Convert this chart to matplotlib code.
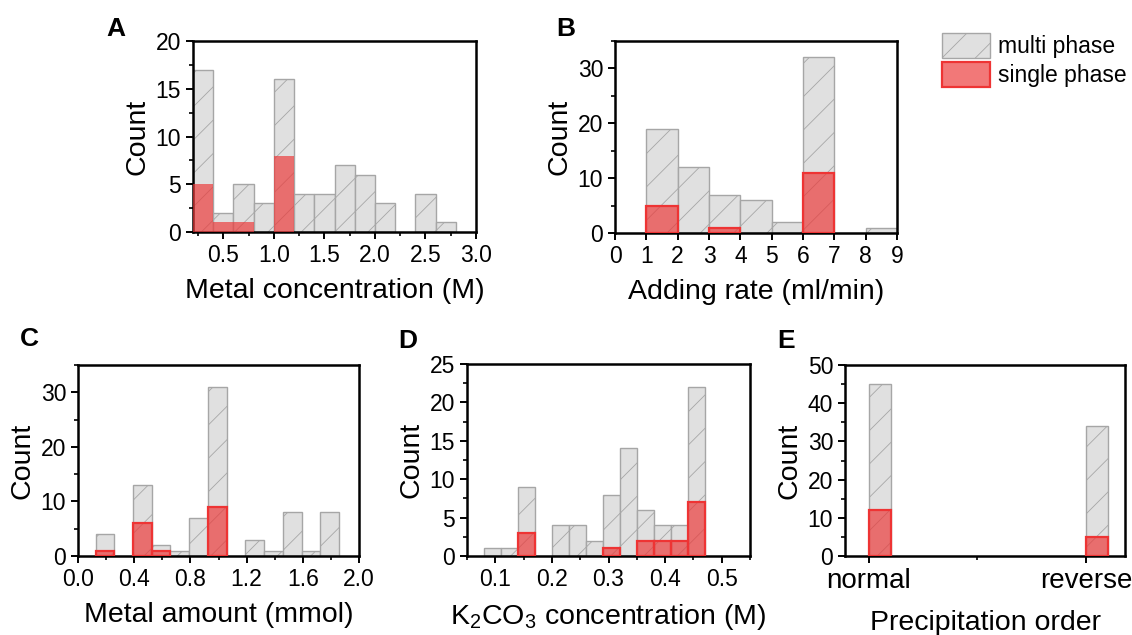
import numpy as np
import matplotlib
matplotlib.use('Agg')
import matplotlib.pyplot as plt
from matplotlib.ticker import MultipleLocator
from matplotlib.patches import Patch

plt.rcParams['font.family'] = ['Liberation Sans', 'DejaVu Sans']
plt.rcParams['hatch.color'] = '#9a9a9a'
plt.rcParams['hatch.linewidth'] = 0.6

# A: metal concentration
a_edges = [0.2, 0.4, 0.6, 0.8, 1.0, 1.2, 1.4, 1.6, 1.8, 2.0, 2.2, 2.4, 2.6, 2.8]
a_multi = [17, 2, 5, 3, 16, 4, 4, 7, 6, 3, 0, 4, 1]
a_single = [5, 1, 1, 0, 8, 0, 0, 0, 0, 0, 0, 0, 0]

# B: adding rate
b_edges = [1, 2, 3, 4, 5, 6, 7, 8, 9]
b_multi = [19, 12, 7, 6, 2, 32, 0, 1]
b_single = [5, 0, 1, 0, 0, 11, 0, 0]

# C: metal amount
c_edges = [0.125, 0.258, 0.392, 0.525, 0.658, 0.792, 0.925, 1.058,
           1.192, 1.325, 1.458, 1.592, 1.725, 1.858]
c_multi = [4, 0, 13, 2, 1, 7, 31, 0, 3, 1, 8, 1, 8]
c_single = [1, 0, 6, 1, 0, 0, 9, 0, 0, 0, 0, 0, 0]

# D: K2CO3 concentration
d_edges = [0.08, 0.11, 0.14, 0.17, 0.20, 0.23, 0.26, 0.29, 0.32, 0.35,
           0.38, 0.41, 0.44, 0.47]
d_multi = [1, 1, 9, 0, 4, 4, 2, 8, 14, 6, 4, 4, 22]
d_single = [0, 0, 3, 0, 0, 0, 0, 1, 0, 2, 2, 2, 7]

# E: precipitation order
e_labels = ['normal', 'reverse']
e_edges = [1.0, 1.1, 2.0, 2.1]
e_multi = [45, 34]
e_single = [12, 5]

gray_fc = '#e0e0e0'
gray_ec = '#a6a6a6'
red_fc = (0.93, 0.22, 0.22, 0.68)
red_ec = '#ee3434'

fig = plt.figure(figsize=(11.32, 6.35), dpi=100)
W, H = 1132, 635


def add_ax(l, t, r, b):
    return fig.add_axes([l / W, (H - b) / H, (r - l) / W, (b - t) / H])


def hist(ax, left, width, multi, single, red_edge=True):
    left, width = np.asarray(left), np.asarray(width)
    multi, single = np.asarray(multi), np.asarray(single)
    m = multi > 0
    ax.bar(left[m], multi[m], width=width[m], align='edge', color=gray_fc,
           edgecolor=gray_ec, linewidth=1.0, hatch='/', zorder=2)
    s = single > 0
    ax.bar(left[s], single[s], width=width[s], align='edge', color=red_fc,
           edgecolor=red_ec if red_edge else 'none', linewidth=1.6, zorder=3)


def style(ax, xlabel, label, lx, ly, pad=8):
    for sp in ax.spines.values():
        sp.set_linewidth(1.8)
    ax.tick_params(which='both', direction='out', top=False, right=False,
                   labelsize=16.5)
    ax.tick_params(which='major', length=5, width=1.4)
    ax.tick_params(which='minor', length=3, width=1.2)
    ax.set_xlabel(xlabel, fontsize=20.5, labelpad=pad)
    ax.set_ylabel('Count', fontsize=20.5, labelpad=4)
    fig.text(lx / W, 1 - ly / H, label, fontsize=19, fontweight='bold',
             ha='center', va='center')


# panel A
ax = add_ax(193, 41, 476, 232)
e = np.array(a_edges)
hist(ax, e[:-1], np.diff(e), a_multi, a_single, red_edge=False)
ax.set_xlim(0.2, 3.0)
ax.set_ylim(0, 20)
ax.xaxis.set_minor_locator(MultipleLocator(0.25))
ax.yaxis.set_major_locator(MultipleLocator(5))
ax.yaxis.set_minor_locator(MultipleLocator(2.5))
ax.set_xticks([0.5, 1.0, 1.5, 2.0, 2.5, 3.0])
style(ax, 'Metal concentration (M)', 'A', 116, 29)

# panel B
ax = add_ax(615, 41, 897, 233)
e = np.array(b_edges)
hist(ax, e[:-1], np.diff(e), b_multi, b_single)
ax.set_xlim(0, 9)
ax.set_ylim(0, 35)
ax.xaxis.set_major_locator(MultipleLocator(1))
ax.yaxis.set_major_locator(MultipleLocator(10))
ax.yaxis.set_minor_locator(MultipleLocator(5))
style(ax, 'Adding rate (ml/min)', 'B', 566, 29)

# panel C
ax = add_ax(78, 365, 359, 556)
e = np.array(c_edges)
hist(ax, e[:-1], np.diff(e), c_multi, c_single)
ax.set_xlim(0, 2.0)
ax.set_ylim(0, 35)
ax.xaxis.set_major_locator(MultipleLocator(0.4))
ax.xaxis.set_minor_locator(MultipleLocator(0.2))
ax.yaxis.set_major_locator(MultipleLocator(10))
ax.yaxis.set_minor_locator(MultipleLocator(5))
ax.xaxis.set_major_formatter(lambda v, p: f'{v:.1f}')
style(ax, 'Metal amount (mmol)', 'C', 29, 339)

# panel D
ax = add_ax(467, 364, 750, 556)
e = np.array(d_edges)
hist(ax, e[:-1], np.diff(e), d_multi, d_single)
ax.set_xlim(0.05, 0.55)
ax.set_ylim(0, 25)
ax.set_xticks([0.1, 0.2, 0.3, 0.4, 0.5])
ax.xaxis.set_minor_locator(MultipleLocator(0.05))
ax.yaxis.set_major_locator(MultipleLocator(5))
ax.yaxis.set_minor_locator(MultipleLocator(2.5))
style(ax, r'K$_\mathregular{2}$CO$_\mathregular{3}$ concentration (M)', 'D', 408, 341)

# panel E
ax = add_ax(845, 365, 1125, 556)
e = np.array(e_edges)
hist(ax, e[0::2], e[1::2] - e[0::2], e_multi, e_single)
ax.set_xlim(0.89, 2.18)
ax.set_ylim(0, 50)
ax.set_xticks([1, 2])
ax.set_xticklabels(e_labels)
ax.xaxis.set_minor_locator(MultipleLocator(0.5))
ax.yaxis.set_major_locator(MultipleLocator(10))
ax.yaxis.set_minor_locator(MultipleLocator(5))
style(ax, 'Precipitation order', 'E', 786, 341, pad=12)
ax.tick_params(axis='x', labelsize=20)

handles = [Patch(facecolor=gray_fc, edgecolor=gray_ec, hatch='/', label='multi phase'),
           Patch(facecolor=red_fc, edgecolor=red_ec, linewidth=1.6, label='single phase')]
fig.legend(handles=handles, loc='upper left', bbox_to_anchor=(933 / W, 1 - 24 / H),
           frameon=False, fontsize=16.5, handlelength=2.1, handleheight=1.3,
           handletextpad=0.35, labelspacing=0.15, borderaxespad=0)

fig.savefig('out.png', dpi=100)
